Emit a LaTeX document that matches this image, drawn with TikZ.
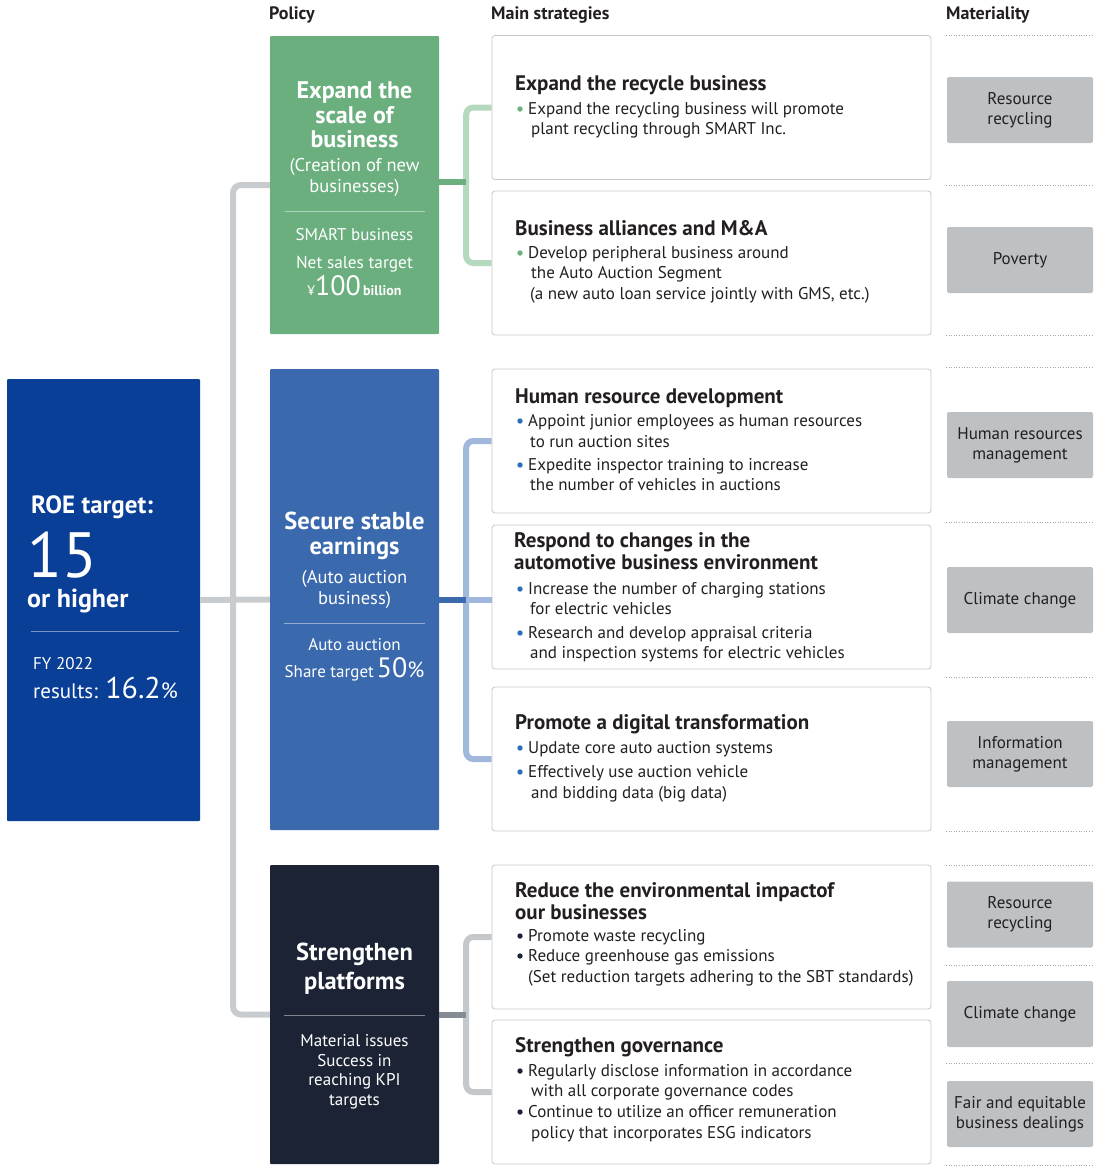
\documentclass[tikz,border=0pt]{standalone}
\usepackage{fontspec}
\setmainfont{PT Sans}
\usetikzlibrary{positioning}

\definecolor{roeblue}{HTML}{0A3F97}
\definecolor{grnbox}{HTML}{6BAF7F}
\definecolor{grnline}{HTML}{B4D9BF}
\definecolor{blubox}{HTML}{3A69AE}
\definecolor{bluline}{HTML}{9FB8DB}
\definecolor{bludot}{HTML}{2A6EBE}
\definecolor{dkbox}{HTML}{1C2334}
\definecolor{dkline}{HTML}{C5C8CB}
\definecolor{dkstub}{HTML}{868C94}
\definecolor{trunkgray}{HTML}{C9CCCF}
\definecolor{matgray}{HTML}{BDC1C4}
\definecolor{stratline}{HTML}{C8C8C8}
\definecolor{txt}{HTML}{231F20}
\definecolor{dotgray}{HTML}{A8A8A8}

\newcommand\fsz[2]{\fontsize{#1}{#2}\selectfont}

\tikzset{
  policybox/.style={minimum width=169pt, inner sep=0pt, rounded corners=1pt},
  stratbox/.style={draw=stratline, fill=white, line width=0.8pt, minimum width=439pt,
    minimum height=144pt, rounded corners=3pt, inner sep=0pt},
  matbox/.style={fill=matgray, minimum width=146pt, minimum height=66pt, rounded corners=2pt,
    align=center, font=\fsz{17}{20}, text=txt, inner sep=0pt},
  header/.style={anchor=base west, inner sep=0pt, font=\fsz{18}{20}\bfseries, text=txt},
  titletxt/.style={anchor=base west, yshift=-7pt, inner sep=0pt, font=\fsz{21}{23}\bfseries, text=txt},
  bodytxt/.style={anchor=base west, yshift=-5.5pt, inner sep=0pt, font=\fsz{17}{20}, text=txt},
  wtxt/.style={text=white, inner sep=0pt, align=center},
  sepline/.style={draw=white, draw opacity=0.45, line width=0.8pt},
  trunk/.style={draw=trunkgray, line width=6pt, rounded corners=8pt},
  brk/.style={line width=6pt, rounded corners=7pt},
  dotline/.style={draw=dotgray, line width=0.6pt, dotted}
}

\begin{document}
\begin{tikzpicture}[x=1pt, y=-1pt]
\useasboundingbox (0,0) rectangle (1100,1173);

% column headers
\node[header] (hpol) at (269,19) {Policy};
\node[header] (hstr) at (491,19) {Main strategies};
\node[header] (hmat) at (946,19) {Materiality};

% ROE target
\node[fill=roeblue, minimum width=193pt, minimum height=442pt, inner sep=0pt, rounded corners=1pt] (roe) at (103.5,600) {};
\node[wtxt, anchor=base west, font=\fsz{25}{28}\bfseries] (roet) at (31,513) {ROE target:};
\node[wtxt, anchor=base west, text height=44pt, text depth=0pt, font=\fsz{64}{64}] (roen) at (27,577) {15};
\node[wtxt, anchor=base west, text height=14pt, font=\fsz{26}{28}\bfseries] (roeh) at (27,607) {or higher};
\draw[sepline] (31,631) -- (179,631);
\node[wtxt, anchor=base west, font=\fsz{17}{19}] (roefy) at (33,669) {FY 2022};
\node[wtxt, anchor=base west, font=\fsz{21}{24}] (roer) at (33,698)
  {results: {\fsz{30}{30}16.2}{\fsz{22}{24}\%}};

% policy boxes
\node[policybox, fill=grnbox, minimum height=298pt] (grn) at (354.5,185) {};
\node[policybox, fill=blubox, minimum height=461pt] (blu) at (354.5,599.5) {};
\node[policybox, fill=dkbox, minimum height=299pt] (dk) at (354.5,1014.5) {};

\node[wtxt, font=\fsz{24}{24.5}\bfseries] (grnt) at (354.5,115) {Expand the\\scale of\\business};
\node[wtxt, font=\fsz{18.5}{21}] (grns) at (354.5,177.5) {(Creation of new\\businesses)};
\draw[sepline] (285,211) -- (425,211);
\node[wtxt, font=\fsz{17}{19}] (grnk) at (354.5,235) {SMART business};
\node[wtxt, font=\fsz{17.3}{19}] (grnn) at (354.5,264) {Net sales target};
\node[wtxt, anchor=base, font=\fsz{14}{16}] (grnv) at (354.5,295)
  {¥{\fsz{28}{28}100}\,\textbf{billion}};

\node[wtxt, font=\fsz{24.5}{24.5}\bfseries] (blut) at (354.5,536) {Secure stable\\earnings};
\node[wtxt, font=\fsz{18.5}{21}] (blus) at (354.5,589.5) {(Auto auction\\business)};
\draw[sepline] (284,623) -- (425,623);
\node[wtxt, font=\fsz{17}{19}] (bluk) at (354.5,645) {Auto auction};
\node[wtxt, anchor=base, font=\fsz{17}{19}] (blun) at (354.5,677)
  {Share target\,{\fsz{28}{28}50}{\fsz{22}{22}\%}};

\node[wtxt, font=\fsz{24.5}{29}\bfseries] (dkt) at (354.5,968.5) {Strengthen\\platforms};
\draw[sepline] (284,1015) -- (425,1015);
\node[wtxt, font=\fsz{17}{19.5}] (dks) at (354.5,1072) {Material issues\\Success in\\reaching KPI\\targets};

% trunk from ROE to the policies
\draw[trunk] (grn.west) -| (233,600) |- (dk.west);
\draw[trunk] (roe.east) -- (blu.west);

% strategy boxes
\node[stratbox] (s1) at (711.5,107.5) {};
\node[stratbox] (s2) at (711.5,263) {};
\node[stratbox] (s3) at (711.5,441) {};
\node[stratbox] (s4) at (711.5,597) {};
\node[stratbox] (s5) at (711.5,759) {};
\node[stratbox] (s6) at (711.5,937) {};
\node[stratbox] (s7) at (711.5,1092) {};

% brackets
\coordinate (gj) at ([xshift=27pt,yshift=3pt]grn.east);
\coordinate (bj) at ([xshift=27pt]blu.east);
\coordinate (dj) at ([xshift=27pt]dk.east);
\draw[brk, grnline] (s1.west) -| (gj) |- (s2.west);
\draw[brk, grnbox] (gj -| grn.east) -- (gj);
\draw[brk, bluline] (s3.west) -| (bj) |- (s5.west);
\draw[brk, bluline] (bj) -- (bj -| s4.west);
\draw[brk, blubox] (blu.east) -- (bj);
\draw[brk, dkline] (s6.west) -| (dj) |- (s7.west);
\draw[brk, dkstub] (dk.east) -- (dj);

% strategy titles
\node[titletxt] (s1t) at (515,83) {Expand the recycle business};
\node[titletxt] (s2t) at (515,228) {Business alliances and M\&A};
\node[titletxt] (s3t) at (515,396) {Human resource development};
\node[titletxt] (s4t) at (514,540) {Respond to changes in the};
\node[titletxt] (s4u) at (514,562) {automotive business environment};
\node[titletxt] (s5t) at (515,722) {Promote a digital transformation};
\node[titletxt] (s6t) at (515,890) {Reduce the environmental impactof};
\node[titletxt] (s6u) at (515,912) {our businesses};
\node[titletxt] (s7t) at (515,1045) {Strengthen governance};

% bullet lines
\foreach \c/\y/\t [count=\i] in {
    grnbox/109/Expand the recycling business will promote,
    grnbox/253/Develop peripheral business around,
    bludot/421/Appoint junior employees as human resources,
    bludot/465/Expedite inspector training to increase,
    bludot/589/Increase the number of charging stations,
    bludot/633/Research and develop appraisal criteria,
    bludot/748/Update core auto auction systems,
    bludot/772/Effectively use auction vehicle,
    dkbox/936/Promote waste recycling,
    dkbox/956/Reduce greenhouse gas emissions,
    dkbox/1071/Regularly disclose information in accordance,
    dkbox/1112/Continue to utilize an officer remuneration}
{
  \node[bodytxt] (bl\i) at (528,\y) {\t};
  \fill[\c] (520,\y) circle (2.7pt);
}

% follow-on lines
\foreach \x/\y/\t [count=\i] in {
    531/129/plant recycling through SMART Inc.,
    531/273/the Auto Auction Segment,
    530/294/{(a new auto loan service jointly with GMS, etc.)},
    530/442/to run auction sites,
    530/485/the number of vehicles in auctions,
    530/609/for electric vehicles,
    530/653/and inspection systems for electric vehicles,
    531/793/and bidding data (big data),
    528/977/(Set reduction targets adhering to the SBT standards),
    531/1091/with all corporate governance codes,
    531/1133/policy that incorporates ESG indicators}
{
  \node[bodytxt] (fl\i) at (\x,\y) {\t};
}

% materiality
\foreach \y in {35,185,335,367,522,677,831,865,965,1063,1165}
  \draw[dotline] (946,\y) -- (1092,\y);
\node[matbox] (m1) at (1020,110) {Resource\\recycling};
\node[matbox] (m2) at (1020,260) {Poverty};
\node[matbox] (m3) at (1020,445) {Human resources\\management};
\node[matbox] (m4) at (1020,600) {Climate change};
\node[matbox] (m5) at (1020,754) {Information\\management};
\node[matbox] (m6) at (1020,914.5) {Resource\\recycling};
\node[matbox] (m7) at (1020,1014) {Climate change};
\node[matbox] (m8) at (1020,1114) {Fair and equitable\\business dealings};
\end{tikzpicture}
\end{document}
